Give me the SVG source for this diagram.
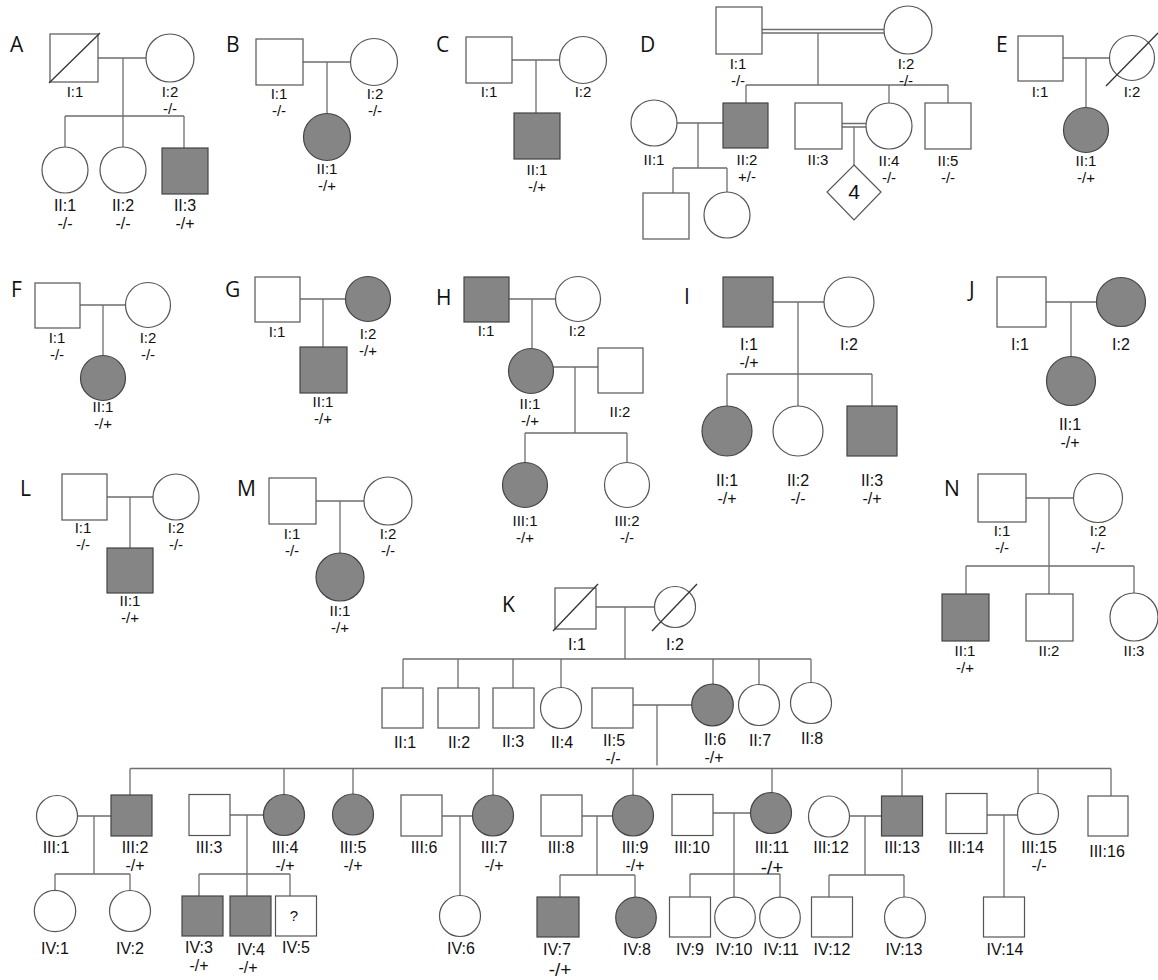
<svg xmlns="http://www.w3.org/2000/svg" width="1158" height="980" viewBox="0 0 1158 980">
<style>
.c{stroke:#6e6e6e;stroke-width:1.3;fill:none}
.n{fill:#fff;stroke:#555;stroke-width:1.2}
.f{fill:#858585;stroke:#444;stroke-width:1.2}
.d{stroke:#333;stroke-width:1.3}
.t{font-family:"Liberation Sans",Arial,sans-serif;font-size:15px;text-anchor:middle;fill:#111}
.k{font-family:"Liberation Sans",Arial,sans-serif;font-size:16px;text-anchor:middle;fill:#111}
.b{font-size:19px}
.L{font-family:"Open Sans","Noto Sans",sans-serif;font-size:21px;fill:#111}
</style>
<rect width="1158" height="980" fill="#fff"/>
<g id="connectors" class="c">
<path d="M98 58H146M123 58V116M65 116H184M65 116V147M123 116V147M184 116V148"/>
<path d="M303 62H351M327 62V113"/>
<path d="M512 60H559M536 60V113"/>
<path d="M762 29.5H884M762 33H884M818 33V85M746 85H948M746 85V103M889 85V103M948 85V103M677 123H723M698 123V168M673 168H727M673 168V193M727 168V192M842 123.5H866M842 127H866M854 127V165"/>
<path d="M1063 58H1109M1086 58V107"/>
<path d="M80 305H126M103 305V355"/>
<path d="M300 299H346M323 299V347"/>
<path d="M509 299H555M532 299V348M553 367H598M575 367V433M525 433H627M525 433V462M627 433V462"/>
<path d="M773 302H824M798 302V374M727 374H872M727 374V406M798 374V406M872 374V406"/>
<path d="M1046 302H1096M1071 302V356"/>
<path d="M107 497H153M130 497V548"/>
<path d="M316 501H364M340 501V553"/>
<path d="M1026 498H1073M1049 498V566M966 566H1134M966 566V594M1049 566V594M1134 566V593"/>
<path d="M596 607H654M625 607V659M403 659H811M403 659V688M458 659V688M513 659V688M561 659V688M713 659V684M759 659V684M811 659V683M633 705H692M657 705V765.5M130 768.5H1111M130 768.5V795M284 768.5V795M353 768.5V794M493 768.5V795M633 768.5V795M772 768.5V793M902 768.5V796M1038 768.5V793M1111 768.5V796"/>
<path d="M77 816H111M94 816V874M55 874H130M55 874V890M130 874V890"/>
<path d="M230 815H263M247 815V896M199 874H290M199 874V896M290 874V896"/>
<path d="M442 816H472M460 816V896"/>
<path d="M582 816H612M597 816V875M560 875H635M560 875V897M635 875V897"/>
<path d="M713 813H751M734 813V897M690 874H780M690 874V897M780 874V897"/>
<path d="M850 816H881M865 816V875M829 875H904M829 875V897M904 875V897"/>
<path d="M987 815H1018M1004 815V897"/>
</g>
<g id="panel-letters" class="L">
<text x="10" y="52">A</text><text x="226" y="52">B</text><text x="436" y="52">C</text><text x="640" y="52">D</text><text x="996" y="52">E</text>
<text x="11" y="297">F</text><text x="225" y="297">G</text><text x="436" y="305">H</text><text x="684" y="304">I</text><text x="969" y="297">J</text>
<text x="20" y="496">L</text><text x="237" y="496">M</text><text x="944" y="496">N</text><text x="502" y="612">K</text>
</g>
<!-- A -->
<g id="A-I1"><rect class="n" x="50" y="34" width="48" height="48"/><line class="d" x1="49" y1="83" x2="100" y2="33"/><text class="t" x="75" y="97">I:1</text></g>
<g id="A-I2"><circle class="n" cx="170" cy="58" r="24"/><text class="t" x="170" y="97">I:2</text><text class="t" x="170" y="114">-/-</text></g>
<g id="A-II1"><circle class="n" cx="65" cy="170" r="23"/><text class="k" x="65" y="211">II:1</text><text class="k" x="65" y="229">-/-</text></g>
<g id="A-II2"><circle class="n" cx="123" cy="170" r="23"/><text class="k" x="123" y="211">II:2</text><text class="k" x="123" y="229">-/-</text></g>
<g id="A-II3"><rect class="f" x="162" y="148" width="46" height="46"/><text class="k" x="185" y="211">II:3</text><text class="k" x="185" y="229">-/+</text></g>
<!-- B -->
<g id="B-I1"><rect class="n" x="256" y="39" width="47" height="46"/><text class="t" x="279" y="99">I:1</text><text class="t" x="279" y="116">-/-</text></g>
<g id="B-I2"><circle class="n" cx="374" cy="62" r="23.5"/><text class="t" x="375" y="99">I:2</text><text class="t" x="375" y="116">-/-</text></g>
<g id="B-II1"><circle class="f" cx="327" cy="137" r="23.5"/><text class="t" x="327" y="174">II:1</text><text class="t" x="327" y="191">-/+</text></g>
<!-- C -->
<g id="C-I1"><rect class="n" x="466" y="37" width="46" height="46"/><text class="t" x="489" y="97">I:1</text></g>
<g id="C-I2"><circle class="n" cx="583" cy="60" r="23.5"/><text class="t" x="583" y="97">I:2</text></g>
<g id="C-II1"><rect class="f" x="514" y="113" width="46" height="46"/><text class="t" x="537" y="175">II:1</text><text class="t" x="537" y="192">-/+</text></g>
<!-- D -->
<g id="D-I1"><rect class="n" x="716" y="7" width="46" height="47"/><text class="t" x="738" y="69">I:1</text><text class="t" x="738" y="86">-/-</text></g>
<g id="D-I2"><circle class="n" cx="908" cy="30" r="24"/><text class="t" x="906" y="69">I:2</text><text class="t" x="906" y="86">-/-</text></g>
<g id="D-II1"><circle class="n" cx="654" cy="123" r="23"/><text class="t" x="654" y="165">II:1</text></g>
<g id="D-II2"><rect class="f" x="723" y="103" width="45" height="45"/><text class="t" x="747" y="165">II:2</text><text class="t" x="747" y="182">+/-</text></g>
<g id="D-II3"><rect class="n" x="795" y="103" width="47" height="46"/><text class="t" x="818" y="165">II:3</text></g>
<g id="D-II4"><circle class="n" cx="889" cy="126" r="23"/><text class="t" x="889" y="166">II:4</text><text class="t" x="889" y="183">-/-</text></g>
<g id="D-II5"><rect class="n" x="925" y="103" width="46" height="46"/><text class="t" x="948" y="166">II:5</text><text class="t" x="948" y="183">-/-</text></g>
<g id="D-III1"><rect class="n" x="643" y="193" width="46" height="46"/></g>
<g id="D-III2"><circle class="n" cx="727" cy="215" r="23"/></g>
<g id="D-III3"><polygon class="n" points="854,165 881,192 854,220 827,192"/><text class="t" x="854" y="199" style="font-size:21px">4</text></g>
<!-- E -->
<g id="E-I1"><rect class="n" x="1018" y="36" width="45" height="45"/><text class="t" x="1040" y="97">I:1</text></g>
<g id="E-I2"><circle class="n" cx="1132" cy="58" r="22.5"/><line class="d" x1="1106" y1="86" x2="1158" y2="33"/><text class="t" x="1132" y="97">I:2</text></g>
<g id="E-II1"><circle class="f" cx="1086" cy="130" r="22.5"/><text class="t" x="1086" y="166">II:1</text><text class="t" x="1086" y="183">-/+</text></g>
<!-- F -->
<g id="F-I1"><rect class="n" x="35" y="283" width="45" height="45"/><text class="t" x="57" y="343">I:1</text><text class="t" x="57" y="360">-/-</text></g>
<g id="F-I2"><circle class="n" cx="148" cy="305" r="22.5"/><text class="t" x="148" y="343">I:2</text><text class="t" x="148" y="360">-/-</text></g>
<g id="F-II1"><circle class="f" cx="103" cy="378" r="22.5"/><text class="t" x="103" y="412">II:1</text><text class="t" x="103" y="429">-/+</text></g>
<!-- G -->
<g id="G-I1"><rect class="n" x="255" y="277" width="45" height="45"/><text class="t" x="277" y="337">I:1</text></g>
<g id="G-I2"><circle class="f" cx="368" cy="299" r="22.5"/><text class="t" x="368" y="339">I:2</text><text class="t" x="368" y="356">-/+</text></g>
<g id="G-II1"><rect class="f" x="300" y="347" width="47" height="46"/><text class="t" x="323" y="407">II:1</text><text class="t" x="323" y="424">-/+</text></g>
<!-- H -->
<g id="H-I1"><rect class="f" x="464" y="277" width="45" height="45"/><text class="t" x="486" y="336">I:1</text></g>
<g id="H-I2"><circle class="n" cx="578" cy="299" r="22.5"/><text class="t" x="577" y="336">I:2</text></g>
<g id="H-II1"><circle class="f" cx="531" cy="371" r="22.5"/><text class="t" x="530" y="409">II:1</text><text class="t" x="530" y="426">-/+</text></g>
<g id="H-II2"><rect class="n" x="598" y="348" width="45" height="45"/><text class="t" x="620" y="417">II:2</text></g>
<g id="H-III1"><circle class="f" cx="525" cy="485" r="22.5"/><text class="t" x="525" y="526">III:1</text><text class="t" x="525" y="543">-/+</text></g>
<g id="H-III2"><circle class="n" cx="627" cy="485" r="22.5"/><text class="t" x="627" y="526">III:2</text><text class="t" x="627" y="543">-/-</text></g>
<!-- I -->
<g id="I-I1"><rect class="f" x="723" y="277" width="50" height="50"/><text class="k" x="749" y="350">I:1</text><text class="k" x="749" y="368">-/+</text></g>
<g id="I-I2"><circle class="n" cx="849" cy="302" r="25"/><text class="k" x="849" y="350">I:2</text></g>
<g id="I-II1"><circle class="f" cx="727" cy="431" r="25"/><text class="k" x="727" y="486">II:1</text><text class="k" x="727" y="504">-/+</text></g>
<g id="I-II2"><circle class="n" cx="798" cy="431" r="25"/><text class="k" x="798" y="486">II:2</text><text class="k" x="798" y="504">-/-</text></g>
<g id="I-II3"><rect class="f" x="847" y="406" width="50" height="50"/><text class="k" x="872" y="486">II:3</text><text class="k" x="872" y="504">-/+</text></g>
<!-- J -->
<g id="J-I1"><rect class="n" x="997" y="277" width="49" height="50"/><text class="k" x="1020" y="350">I:1</text></g>
<g id="J-I2"><circle class="f" cx="1121" cy="302" r="24.5"/><text class="k" x="1121" y="350">I:2</text></g>
<g id="J-II1"><circle class="f" cx="1071" cy="381" r="24.5"/><text class="k" x="1070" y="430">II:1</text><text class="k" x="1070" y="448">-/+</text></g>
<!-- L -->
<g id="L-I1"><rect class="n" x="62" y="474" width="45" height="46"/><text class="t" x="83" y="533">I:1</text><text class="t" x="83" y="550">-/-</text></g>
<g id="L-I2"><circle class="n" cx="176" cy="497" r="23"/><text class="t" x="176" y="533">I:2</text><text class="t" x="176" y="550">-/-</text></g>
<g id="L-II1"><rect class="f" x="107" y="548" width="46" height="45"/><text class="t" x="130" y="606">II:1</text><text class="t" x="130" y="623">-/+</text></g>
<!-- M -->
<g id="M-I1"><rect class="n" x="269" y="478" width="47" height="46"/><text class="t" x="292" y="539">I:1</text><text class="t" x="292" y="556">-/-</text></g>
<g id="M-I2"><circle class="n" cx="388" cy="501" r="24"/><text class="t" x="388" y="539">I:2</text><text class="t" x="388" y="556">-/-</text></g>
<g id="M-II1"><circle class="f" cx="340" cy="577" r="24"/><text class="t" x="340" y="616">II:1</text><text class="t" x="340" y="633">-/+</text></g>
<!-- N -->
<g id="N-I1"><rect class="n" x="978" y="474" width="48" height="48"/><text class="t" x="1002" y="536">I:1</text><text class="t" x="1002" y="553">-/-</text></g>
<g id="N-I2"><circle class="n" cx="1098" cy="498" r="24.5"/><text class="t" x="1098" y="536">I:2</text><text class="t" x="1098" y="553">-/-</text></g>
<g id="N-II1"><rect class="f" x="942" y="594" width="47" height="47"/><text class="t" x="965" y="656">II:1</text><text class="t" x="965" y="673">-/+</text></g>
<g id="N-II2"><rect class="n" x="1026" y="594" width="47" height="47"/><text class="t" x="1049" y="656">II:2</text></g>
<g id="N-II3"><circle class="n" cx="1134" cy="617" r="24"/><text class="t" x="1134" y="656">II:3</text></g>
<!-- K generation I -->
<g id="K-I1"><rect class="n" x="555" y="588" width="41" height="41"/><line class="d" x1="553" y1="631" x2="598" y2="584"/><text class="k" x="577" y="650">I:1</text></g>
<g id="K-I2"><circle class="n" cx="675" cy="607" r="20.5"/><line class="d" x1="652" y1="631" x2="697" y2="584"/><text class="k" x="675" y="650">I:2</text></g>
<!-- K generation II -->
<g id="K-II1"><rect class="n" x="382" y="688" width="41" height="40"/><text class="k" x="405" y="748">II:1</text></g>
<g id="K-II2"><rect class="n" x="438" y="688" width="41" height="40"/><text class="k" x="459" y="748">II:2</text></g>
<g id="K-II3"><rect class="n" x="493" y="688" width="41" height="40"/><text class="k" x="513" y="747">II:3</text></g>
<g id="K-II4"><circle class="n" cx="561" cy="708" r="20.5"/><text class="k" x="562" y="748">II:4</text></g>
<g id="K-II5"><rect class="n" x="592" y="688" width="41" height="40"/><text class="k" x="614" y="746">II:5</text><text class="k" x="613" y="764">-/-</text></g>
<g id="K-II6"><circle class="f" cx="712.5" cy="705" r="20.8"/><text class="k" x="715" y="745">II:6</text><text class="k" x="714" y="763">-/+</text></g>
<g id="K-II7"><circle class="n" cx="759" cy="705" r="20.5"/><text class="k" x="760" y="746">II:7</text></g>
<g id="K-II8"><circle class="n" cx="811" cy="703" r="20.5"/><text class="k" x="812" y="744">II:8</text></g>
<!-- K generation III -->
<g id="K-III1"><circle class="n" cx="57" cy="816" r="20.5"/><text class="k" x="56" y="853">III:1</text></g>
<g id="K-III2"><rect class="f" x="111" y="795" width="41" height="41"/><text class="k" x="135" y="853">III:2</text><text class="k" x="135" y="871">-/+</text></g>
<g id="K-III3"><rect class="n" x="189" y="794.5" width="41" height="41"/><text class="k" x="209" y="853">III:3</text></g>
<g id="K-III4"><circle class="f" cx="284" cy="815" r="20.5"/><text class="k" x="285" y="853">III:4</text><text class="k" x="285" y="871">-/+</text></g>
<g id="K-III5"><circle class="f" cx="353" cy="814.5" r="20.5"/><text class="k" x="353" y="853">III:5</text><text class="k" x="353" y="871">-/+</text></g>
<g id="K-III6"><rect class="n" x="401" y="795" width="41" height="41"/><text class="k" x="424" y="853">III:6</text></g>
<g id="K-III7"><circle class="f" cx="493" cy="815.5" r="20.5"/><text class="k" x="494" y="853">III:7</text><text class="k" x="494" y="871">-/+</text></g>
<g id="K-III8"><rect class="n" x="541" y="795" width="41" height="41"/><text class="k" x="561" y="853">III:8</text></g>
<g id="K-III9"><circle class="f" cx="633" cy="815.5" r="20.5"/><text class="k" x="635" y="853">III:9</text><text class="k" x="635" y="871">-/+</text></g>
<g id="K-III10"><rect class="n" x="672" y="794.5" width="41" height="41"/><text class="k" x="692" y="853">III:10</text></g>
<g id="K-III11"><circle class="f" cx="771" cy="813" r="20.5"/><text class="k" x="772" y="853">III:11</text><text class="k b" x="772" y="874">-/+</text></g>
<g id="K-III12"><circle class="n" cx="829" cy="816.5" r="20.5"/><text class="k" x="831" y="853">III:12</text></g>
<g id="K-III13"><rect class="f" x="881.5" y="796" width="41" height="40"/><text class="k" x="902" y="853">III:13</text></g>
<g id="K-III14"><rect class="n" x="946" y="793.5" width="41" height="40"/><text class="k" x="966" y="853">III:14</text></g>
<g id="K-III15"><circle class="n" cx="1038" cy="814" r="20.5"/><text class="k" x="1039" y="853">III:15</text><text class="k" x="1039" y="871">-/-</text></g>
<g id="K-III16"><rect class="n" x="1088" y="796" width="40" height="40"/><text class="k" x="1107" y="857">III:16</text></g>
<!-- K generation IV -->
<g id="K-IV1"><circle class="n" cx="55" cy="911" r="20.7"/><text class="k" x="55" y="954">IV:1</text></g>
<g id="K-IV2"><circle class="n" cx="130" cy="911" r="20.5"/><text class="k" x="130" y="954">IV:2</text></g>
<g id="K-IV3"><rect class="f" x="182" y="896" width="41" height="40"/><text class="k" x="199" y="953">IV:3</text><text class="k" x="199" y="971">-/+</text></g>
<g id="K-IV4"><rect class="f" x="230" y="896" width="41" height="40"/><text class="k" x="251" y="955">IV:4</text><text class="k" x="248" y="973">-/+</text></g>
<g id="K-IV5"><rect class="n" x="275.5" y="896" width="41" height="40"/><text class="t" x="294" y="921">?</text><text class="k" x="296" y="953">IV:5</text></g>
<g id="K-IV6"><circle class="n" cx="460" cy="916" r="20.5"/><text class="k" x="461" y="954">IV:6</text></g>
<g id="K-IV7"><rect class="f" x="537" y="897" width="42" height="40"/><text class="k" x="557" y="955">IV:7</text><text class="k b" x="560" y="976">-/+</text></g>
<g id="K-IV8"><circle class="f" cx="636" cy="917.5" r="20.3"/><text class="k" x="637" y="955">IV:8</text></g>
<g id="K-IV9"><rect class="n" x="669.5" y="897" width="41" height="40"/><text class="k" x="690" y="955">IV:9</text></g>
<g id="K-IV10"><circle class="n" cx="735" cy="917.5" r="20.3"/><text class="k" x="734" y="955">IV:10</text></g>
<g id="K-IV11"><circle class="n" cx="780" cy="917.5" r="20.3"/><text class="k" x="781" y="955">IV:11</text></g>
<g id="K-IV12"><rect class="n" x="811.5" y="897" width="41" height="40"/><text class="k" x="832" y="955">IV:12</text></g>
<g id="K-IV13"><circle class="n" cx="905" cy="917.5" r="20.5"/><text class="k" x="904" y="955">IV:13</text></g>
<g id="K-IV14"><rect class="n" x="983.5" y="897" width="41" height="40"/><text class="k" x="1005" y="955">IV:14</text></g>
</svg>
